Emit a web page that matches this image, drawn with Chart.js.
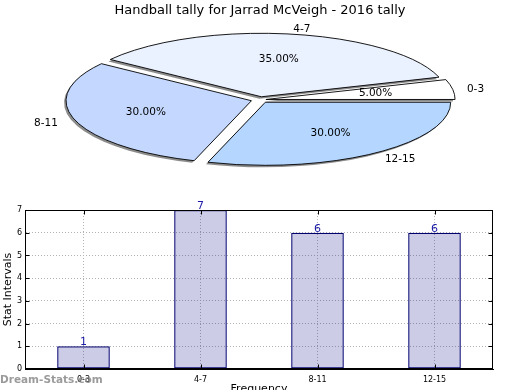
<!DOCTYPE html>
<html>
<head>
<meta charset="utf-8">
<script src="https://cdn.jsdelivr.net/npm/chart.js@4.4.1/dist/chart.umd.min.js"></script>
<style>
    html, body { margin: 0; padding: 0; background: #fff; overflow: hidden; }
    #wrap { position: relative; width: 520px; height: 390px; overflow: hidden; }
    #pieBox { position: absolute; left: 0; top: 0; width: 520px; height: 181px; }
    #barBox { position: absolute; left: 0; top: 195px; width: 520px; height: 205px; }
    #mark { position: absolute; left: 0; top: 373px; font: bold 10.5px "DejaVu Sans"; color: rgba(130,130,130,0.8); }
</style>
</head>
<body>
<div id="wrap">
    <div id="pieBox"><canvas id="pie"></canvas></div>
    <div id="barBox"><canvas id="bar"></canvas></div>
    <div id="mark">Dream-Stats.com</div>
</div>
<script>
// data
const chartTitle = 'Handball tally for Jarrad McVeigh - 2016 tally';
const intervals = ['0-3', '4-7', '8-11', '12-15'];
const counts = [1, 7, 6, 6];
const sliceColors = ['#ffffff', '#eaf1ff', '#c4d8ff', '#b4d6ff'];
const sliceOffsets = [24, 36, 36, 36];
const yTicks = [0, 1, 2, 3, 4, 5, 6, 7];

const FONT = 'DejaVu Sans';
const K = 0.34; // vertical squash so the pie looks like an ellipse

// chart.js goes clockwise, the original goes counter clockwise -> reverse
const pieLabels = intervals.slice().reverse();
const pieValues = counts.slice().reverse();
const pieColors = sliceColors.slice().reverse();
const pieOffsets = sliceOffsets.slice().reverse();
const total = counts.reduce((s, v) => s + v, 0);

function squash(ctx, cx, cy) {
    ctx.translate(cx, cy);
    ctx.scale(1, K);
    ctx.translate(-cx, -cy);
}

// same geometry as the ArcElement draws (offset / 4 + radius fix)
function arcPath(ctx, a) {
    const mid = (a.startAngle + a.endAngle) / 2;
    const d = (a.options.offset || 0) / 4;
    const fix = 1 - Math.sin(Math.min(Math.PI, a.circumference || 0));
    const r = a.outerRadius + d * fix;
    const x = a.x + Math.cos(mid) * d;
    const y = a.y + Math.sin(mid) * d;
    ctx.moveTo(x, y);
    ctx.arc(x, y, r, a.startAngle, a.endAngle);
    ctx.closePath();
}

const ellipsePie = {
    id: 'ellipsePie',
    beforeDatasetsDraw(chart) {
        const ctx = chart.ctx;
        const area = chart.chartArea;
        const cx = (area.left + area.right) / 2;
        const cy = (area.top + area.bottom) / 2;
        const arcs = chart.getDatasetMeta(0).data;
        // shadow first
        ctx.save();
        ctx.translate(-2, 2);
        squash(ctx, cx, cy);
        ctx.fillStyle = 'rgba(0,0,0,0.45)';
        arcs.forEach(a => { ctx.beginPath(); arcPath(ctx, a); ctx.fill(); });
        ctx.restore();
        // slices drawn squashed
        ctx.save();
        squash(ctx, cx, cy);
    },
    afterDatasetsDraw(chart) {
        const ctx = chart.ctx;
        ctx.restore();
        const area = chart.chartArea;
        const cx = (area.left + area.right) / 2;
        const cy = (area.top + area.bottom) / 2;
        const arcs = chart.getDatasetMeta(0).data;

        // outlines with an even line width
        ctx.save();
        ctx.save();
        squash(ctx, cx, cy);
        ctx.beginPath();
        arcs.forEach(a => arcPath(ctx, a));
        ctx.restore();
        ctx.lineWidth = 0.9;
        ctx.strokeStyle = '#000';
        ctx.stroke();

        // labels like matplotlib: names at 1.1 r, percents at 0.6 r
        ctx.font = '10.5px "' + FONT + '"';
        ctx.fillStyle = '#000';
        ctx.textBaseline = 'middle';
        arcs.forEach((a, i) => {
            const mid = (a.startAngle + a.endAngle) / 2;
            const d = (a.options.offset || 0) / 4;
            const R = a.outerRadius;
            const c = Math.cos(mid), s = Math.sin(mid);
            const ex = a.x + c * d;
            const ey = a.y + s * d * K;
            ctx.textAlign = c >= 0 ? 'left' : 'right';
            ctx.fillText(pieLabels[i], ex + c * 1.1 * R, ey + s * 1.1 * R * K + 1);
            ctx.textAlign = 'center';
            const pct = (pieValues[i] / total * 100).toFixed(2) + '%';
            ctx.fillText(pct, ex + c * 0.6 * R, ey + s * 0.6 * R * K);
        });
        ctx.restore();
    }
};

new Chart(document.getElementById('pie'), {
    type: 'pie',
    data: {
        labels: pieLabels,
        datasets: [{
            data: pieValues,
            backgroundColor: pieColors,
            borderWidth: 0,
            offset: pieOffsets,
            clip: false
        }]
    },
    options: {
        responsive: true,
        maintainAspectRatio: false,
        animation: false,
        events: [],
        rotation: 90,
        radius: 185,
        plugins: {
            legend: { display: false },
            tooltip: { enabled: false },
            title: {
                display: true,
                text: chartTitle,
                color: '#000',
                font: { family: FONT, size: 13, weight: 'normal' },
                padding: { top: 3, bottom: 0 }
            }
        }
    },
    plugins: [ellipsePie]
});

// frame + inner tick marks around the plot
const frame = {
    id: 'frame',
    afterDatasetsDraw(chart) {
        const ctx = chart.ctx;
        const a = chart.chartArea;
        const l = Math.round(a.left) + 0.5, r = Math.round(a.right) - 0.5;
        const t = Math.round(a.top) + 0.5, b = Math.round(a.bottom) - 0.5;
        ctx.save();
        ctx.strokeStyle = '#000';
        ctx.lineWidth = 1;
        ctx.beginPath();
        chart.scales.y.ticks.forEach(tk => {
            const y = Math.round(chart.scales.y.getPixelForValue(tk.value)) + 0.5;
            ctx.moveTo(l, y); ctx.lineTo(l + 4, y);
            ctx.moveTo(r, y); ctx.lineTo(r - 4, y);
        });
        intervals.forEach((c, i) => {
            const x = Math.round(chart.scales.x.getPixelForValue(i)) + 0.5;
            ctx.moveTo(x, b); ctx.lineTo(x, b - 4);
            ctx.moveTo(x, t); ctx.lineTo(x, t + 4);
        });
        ctx.stroke();
        ctx.strokeRect(l, t, r - l, b - t);
        ctx.restore();
    }
};

// count above each bar
const valueLabels = {
    id: 'valueLabels',
    afterDraw(chart) {
        const ctx = chart.ctx;
        ctx.save();
        ctx.font = '11px "' + FONT + '"';
        ctx.fillStyle = '#1c1ca8';
        ctx.textAlign = 'center';
        ctx.textBaseline = 'alphabetic';
        chart.getDatasetMeta(0).data.forEach((bar, i) => {
            ctx.fillText(counts[i], bar.x, bar.y - 1);
        });
        ctx.restore();
    }
};

const gridStyle = { color: '#b4b4b4', lineWidth: 1, drawTicks: false };

new Chart(document.getElementById('bar'), {
    type: 'bar',
    data: {
        labels: intervals,
        datasets: [{
            data: counts,
            backgroundColor: 'rgba(0,0,128,0.2)',
            borderColor: '#000070',
            borderWidth: 1.2,
            borderSkipped: false,
            barPercentage: 0.45,
            categoryPercentage: 1
        }]
    },
    options: {
        responsive: true,
        maintainAspectRatio: false,
        animation: false,
        events: [],
        layout: { padding: { top: 15, right: 27, left: 0, bottom: 0 } },
        plugins: {
            legend: { display: false },
            tooltip: { enabled: false }
        },
        scales: {
            x: {
                grid: Object.assign({ offset: false }, gridStyle),
                border: { color: '#000', dash: [1, 2] },
                ticks: { color: '#000', padding: 6, font: { family: FONT, size: 8 } },
                title: {
                    display: true, text: 'Frequency', color: '#000',
                    font: { family: FONT, size: 11 }, padding: { top: 0, bottom: 4 }
                },
                afterFit: s => { s.height = 31; }
            },
            y: {
                min: 0,
                max: 7,
                afterBuildTicks: s => { s.ticks = yTicks.map(v => ({ value: v })); },
                grid: gridStyle,
                border: { color: '#000', dash: [1, 2] },
                ticks: { color: '#000', padding: 3, font: { family: FONT, size: 8 } },
                title: {
                    display: true, text: 'Stat Intervals', color: '#000',
                    font: { family: FONT, size: 11 }, padding: { top: 2, bottom: 0 }
                },
                afterFit: s => { s.width = 25; }
            }
        }
    },
    plugins: [frame, valueLabels]
});
</script>
</body>
</html>
